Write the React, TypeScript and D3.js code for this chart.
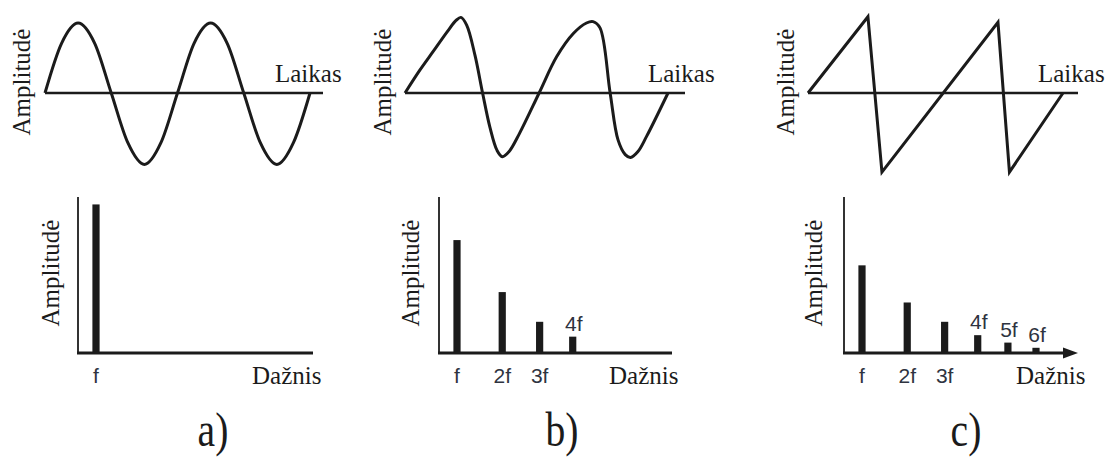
import React from "react";
import * as d3 from "d3";

// time signals, t in periods (0..2), amplitude relative to the sine peak
const sineWave: [number, number][] = [
  [0, 0], [0.125, 0.71], [0.25, 1], [0.375, 0.71], [0.5, 0], [0.625, -0.71], [0.75, -1.02], [0.875, -0.71],
  [1, 0], [1.125, 0.71], [1.25, 1], [1.375, 0.71], [1.5, 0], [1.625, -0.71], [1.75, -1.02], [1.875, -0.71], [2, 0],
];
const harmonicWave: [number, number][] = [
  [0, 0], [0.114, 0.33], [0.213, 0.59], [0.319, 0.87], [0.39, 1.04], [0.425, 1.08], [0.469, 0.97], [0.532, 0.54],
  [0.59, 0], [0.646, -0.49], [0.7, -0.82], [0.74, -0.91], [0.79, -0.84], [0.87, -0.58], [1.02, 0], [1.154, 0.52],
  [1.28, 0.85], [1.38, 1.0], [1.43, 1.02], [1.483, 0.93], [1.56, 0], [1.62, -0.67], [1.675, -0.88], [1.715, -0.92],
  [1.77, -0.84], [1.837, -0.62], [2, 0],
];
const sawWave: [number, number][] = [
  [0, 0], [0.47, 1.09], [0.58, -1.13], [1.49, 1.01], [1.58, -1.13], [2, 0],
];

// spectra: harmonic number -> amplitude
const harmonicsA = [1];
const ampsA = [1.0];
const harmonicsB = [1, 2, 3, 4];
const ampsB = [0.76, 0.41, 0.21, 0.11];
const harmonicsC = [1, 2, 3, 4, 5, 6];
const ampsC = [0.59, 0.34, 0.21, 0.12, 0.07, 0.035];
const tickLabels = ["f", "2f", "3f", "4f", "5f", "6f"];

const panelNames = ["a)", "b)", "c)"];

const serif = "'Liberation Serif', 'Times New Roman', serif";
const sans = "'Liberation Sans', Arial, sans-serif";
const ink = "#1b1b1b";

type Layout = {
  axisL: number; axisR: number; waveL: number; waveR: number; ampX: number; laikasX: number;
  specAxisX: number; specAxisR: number; dazX: number; specAmpX: number; nameX: number;
  topLabels: number; arrow: boolean; curve: d3.CurveFactory;
};

const layouts: Layout[] = [
  { axisL: 45, axisR: 323, waveL: 45, waveR: 310, ampX: 30, laikasX: 275, specAxisX: 78, specAxisR: 313,
    dazX: 252, specAmpX: 59, nameX: 213, topLabels: 1, arrow: false, curve: d3.curveMonotoneX },
  { axisL: 405, axisR: 685, waveL: 405, waveR: 668, ampX: 391, laikasX: 648, specAxisX: 439, specAxisR: 672,
    dazX: 609, specAmpX: 419, nameX: 562, topLabels: 3, arrow: false, curve: d3.curveCatmullRom.alpha(0.5) },
  { axisL: 808, axisR: 1078, waveL: 808, waveR: 1063, ampX: 794, laikasX: 1038, specAxisX: 844, specAxisR: 1078,
    dazX: 1016, specAmpX: 822, nameX: 966, topLabels: 3, arrow: true, curve: d3.curveLinear },
];

const waves = [sineWave, harmonicWave, sawWave];
const specs = [
  { h: harmonicsA, a: ampsA },
  { h: harmonicsB, a: ampsB },
  { h: harmonicsC, a: ampsC },
];

const waveAxisY = 93;
const specBaseY = 353;
const specTopY = 197;

const Panel = ({ i }: { i: number }) => {
  const L = layouts[i];
  const x = d3.scaleLinear().domain([0, 2]).range([L.waveL, L.waveR]);
  const y = d3.scaleLinear().domain([-1, 1]).range([waveAxisY + 70, waveAxisY - 70]);
  const line = d3.line<[number, number]>().x((d) => x(d[0])).y((d) => y(d[1])).curve(L.curve);

  const fx = d3.scalePow().exponent(0.64).domain([1, 6]).range([L.specAxisX + 18, L.specAxisX + 192]);
  const fy = d3.scaleLinear().domain([0, 1.05]).range([specBaseY, specTopY]);
  const s = specs[i];

  return (
    <g>
      {/* time domain */}
      <line x1={L.axisL} x2={L.axisR} y1={waveAxisY} y2={waveAxisY} stroke={ink} strokeWidth={2.6} />
      <path d={line(waves[i]) || ""} fill="none" stroke={ink} strokeWidth={3} strokeLinejoin="miter" />
      <text x={L.laikasX} y={82} fontFamily={serif} fontSize={25} fill={ink}>Laikas</text>
      <text transform={`translate(${L.ampX},82) rotate(-90)`} textAnchor="middle" fontFamily={serif} fontSize={25} fill={ink}>
        Amplitudė
      </text>

      {/* spectrum */}
      <line x1={L.specAxisX} x2={L.specAxisX} y1={specTopY} y2={specBaseY + 1} stroke="#333" strokeWidth={2} />
      <line x1={L.specAxisX - 1} x2={L.arrow ? L.specAxisR - 8 : L.specAxisR} y1={specBaseY} y2={specBaseY} stroke={ink} strokeWidth={3} />
      {L.arrow && (
        <path d={`M${L.specAxisR},${specBaseY} L${L.specAxisR - 15},${specBaseY - 5.5} L${L.specAxisR - 15},${specBaseY + 5.5} Z`} fill={ink} />
      )}
      {s.h.map((h, k) => (
        <rect key={h} x={fx(h) - 3.6} width={7.2} y={fy(s.a[k])} height={specBaseY - fy(s.a[k])} fill={ink} />
      ))}
      {s.h.map((h, k) =>
        k < L.topLabels ? (
          <text key={"b" + h} x={fx(h)} y={383} textAnchor="middle" fontFamily={sans} fontSize={21} fill="#2e3340">
            {tickLabels[h - 1]}
          </text>
        ) : (
          <text key={"t" + h} x={fx(h) + 1} y={fy(s.a[k]) - 6} textAnchor="middle" fontFamily={sans} fontSize={21} fill="#2e3340">
            {tickLabels[h - 1]}
          </text>
        )
      )}
      <text x={L.dazX} y={384} fontFamily={serif} fontSize={25} fill={ink}>Dažnis</text>
      <text transform={`translate(${L.specAmpX},273) rotate(-90)`} textAnchor="middle" fontFamily={serif} fontSize={25} fill={ink}>
        Amplitudė
      </text>

      <text transform={`translate(${L.nameX},446) scale(0.9,1.12)`} textAnchor="middle" fontFamily={serif} fontSize={44} fill={ink}>
        {panelNames[i]}
      </text>
    </g>
  );
};

export default function App() {
  return (
    <svg width={1108} height={459} style={{ position: "absolute", left: 0, top: 0, background: "#fff" }}>
      {[0, 1, 2].map((i) => (
        <Panel key={i} i={i} />
      ))}
    </svg>
  );
}
